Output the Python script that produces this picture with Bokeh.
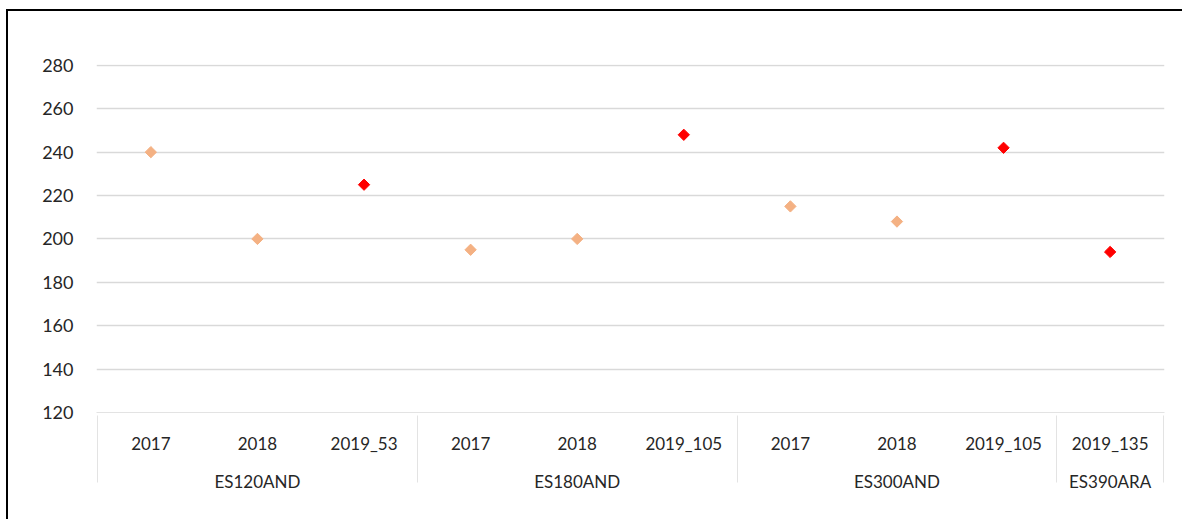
from bokeh.plotting import figure
from bokeh.models import FactorRange, Range1d, FixedTicker, ColumnDataSource
from bokeh.embed import file_html
from bokeh.resources import INLINE
import math

groups = ["ES120AND", "ES120AND", "ES120AND",
          "ES180AND", "ES180AND", "ES180AND",
          "ES300AND", "ES300AND", "ES300AND",
          "ES390ARA"]
subcats = ["2017", "2018", "2019_53",
           "2017", "2018", "2019_105",
           "2017", "2018", "2019_105",
           "2019_135"]
values = [240, 200, 225,
          195, 200, 248,
          215, 208, 242,
          194]
y_ticks = [120, 140, 160, 180, 200, 220, 240, 260, 280]

factors = list(zip(groups, subcats))
colors = ["#FF0000" if s.startswith("2019") else "#F4B183" for s in subcats]

src = ColumnDataSource(dict(x=factors, y=values, c=colors))

# invisible edge groups (padded out of view) so that the axis draws edge separators
all_factors = [(" ", " ")] + factors + [("  ", " ")]

FONT = "Lato"

p = figure(x_range=FactorRange(*all_factors, group_padding=0, factor_padding=0,
                               range_padding=-0.99, range_padding_units="absolute"),
           y_range=Range1d(120, 280.4),
           width=1176, height=510,
           output_backend="svg", toolbar_location=None,
           min_border_left=88, min_border_right=20, min_border_top=53, min_border_bottom=109)
p.styles = {"border-left": "2px solid black", "border-top": "2px solid black",
            "margin-left": "6px", "margin-top": "9px"}

p.scatter("x", "y", source=src, marker="square", angle=math.pi / 4, size=8,
          fill_color="c", line_color="c")

p.outline_line_color = None
p.xgrid.grid_line_color = None
p.ygrid.grid_line_color = "#D9D9D9"
p.ygrid.grid_line_width = 1.3

p.yaxis.ticker = FixedTicker(ticks=y_ticks)
p.yaxis.axis_line_color = None
p.yaxis.major_tick_line_color = None
p.yaxis.minor_tick_line_color = None
p.yaxis.major_label_text_font = FONT
p.yaxis.major_label_text_font_size = "18px"
p.yaxis.major_label_text_color = "#262626"
p.yaxis.major_label_standoff = 17

p.xaxis.axis_line_color = "#E3E3E3"
p.xaxis.major_tick_line_color = None
p.xaxis.minor_tick_line_color = None
p.xaxis.major_label_text_font = FONT
p.xaxis.major_label_text_font_size = "17px"
p.xaxis.major_label_text_color = "#262626"
p.xaxis.major_label_standoff = 14
p.xaxis.group_text_font = FONT
p.xaxis.group_text_font_size = "17px"
p.xaxis.group_text_font_style = "normal"
p.xaxis.group_text_color = "#262626"
p.xaxis.separator_line_color = "#E3E3E3"
p.xaxis.separator_line_width = 1

open("out.html", "w").write(file_html(p, INLINE))
